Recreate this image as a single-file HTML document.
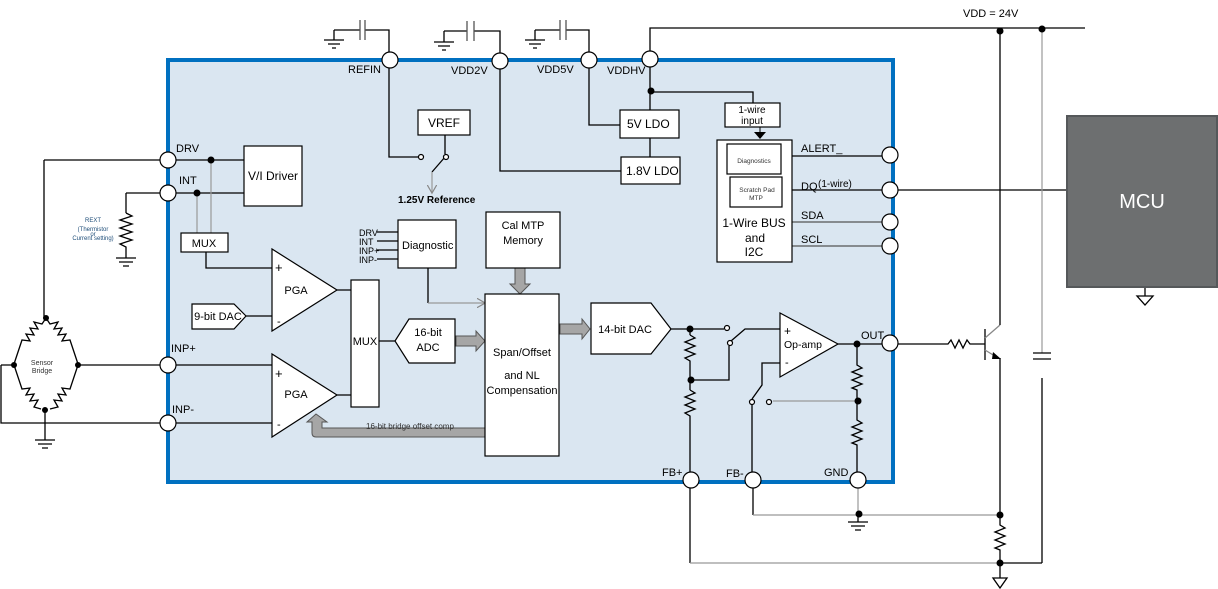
<!DOCTYPE html>
<html><head><meta charset="utf-8"><style>
html,body{margin:0;padding:0;background:#fff;}
svg{display:block;font-family:"Liberation Sans",sans-serif;}
</style></head><body>
<svg width="1218" height="589" viewBox="0 0 1218 589" xmlns="http://www.w3.org/2000/svg">
<defs>
<marker id="ah" markerWidth="8" markerHeight="8" refX="6" refY="4" orient="auto"><path d="M0,0 L7,4 L0,8" fill="none" stroke="#888" stroke-width="1"/></marker>
</defs>
<rect x="168" y="60" width="725" height="422" fill="#dae6f1" stroke="#0070c0" stroke-width="4"/>

<g stroke="#000" stroke-width="1.3" fill="none">
<path d="M334,30 H360 M365,30 H389 V60"/><path d="M360,20 V40 M365,20 V40" stroke="#555"/>
<path d="M334,30 V40 M324,40 H344 M328,44 H340 M332,48 H336"/>
<path d="M444,31 H467 M474,31 H500 V60"/><path d="M467,21 V41 M474,21 V41" stroke="#555"/>
<path d="M444,31 V42 M434,42 H454 M438,46 H450 M442,50 H446"/>
<path d="M535,30 H560 M566,30 H589 V60"/><path d="M560,20 V40 M566,20 V40" stroke="#555"/>
<path d="M535,30 V40 M525,40 H545 M529,44 H541 M533,48 H537"/>
<path d="M650,59 V28 H1085"/>
<path d="M1000,30 V310"/>
<path d="M650,60 V110 M650,92 H753 V103 M650,138 V157"/>
<path d="M589,60 V125 H620 M500,60 V171 H621"/>
<path d="M389,60 V157 H418 M445,135 V154"/>
<path d="M445,157 L432,172"/>
<path d="M792,156 H882 M792,190 H882 M898,190 H1067"/>
<path d="M792,222 H882 M792,246 H882" stroke="#555"/>
<path d="M160,160 H244 M160,193 H244 M44,160 H160 M44,160 V318 M126,193 H160 M126,193 V213"/>
<path d="M126,213 l6,3 -12,4 12,4 -12,4 12,4 -12,4 12,4 -12,4 6,3 V258 M116,258 H136 M119,262 H133 M123,266 H129"/>
<path d="M206,252 V268 H272 M246,316 H272 M78,365 H160 M176,365 H272 M1,365 H14 M1,365 V423 H160 M176,423 H272"/>
<path d="M337,290 H351 M337,395 H351 M379,341 H395"/>
<path d="M45,410 V440 M35,440 H55 M38,444 H52 M42,448 H48"/>
<path d="M428,268 V303"/>
<path d="M46,318 l-4,6 -8,-2 4,7 -8,-1 4,7 -8,-1 4,7 -8,-1 -8,24"/>
<path d="M46,318 l4,6 8,-2 -4,7 8,-1 -4,7 8,-1 -4,7 8,-1 8,24"/>
<path d="M14,365 l8,24 8,-1 -4,7 8,-1 -4,7 8,-1 -4,7 7,2"/>
<path d="M78,365 l-8,24 -8,-1 4,7 -8,-1 4,7 -8,-1 4,7 -8,2"/>
<path d="M377,232 H398 M377,241 H398 M377,250 H398 M377,259 H398"/>
<path d="M671,329 H724 M690,329 V335 M690,335 l5,3 -10,4 10,4 -10,4 10,4 -10,4 5,3 V390 M690,380 H729 V346"/>
<path d="M690,390 l5,3 -10,4 10,4 -10,4 10,4 -10,4 5,3 V472"/>
<path d="M731,341 L745,329 H780"/>
<path d="M838,344 H882 M857,344 V365 l5,3 -10,4 10,4 -10,4 10,4 -10,4 5,2 V420 l5,3 -10,4 10,4 -10,4 10,4 -10,4 5,2 V472"/>
<path d="M752,399 L762,385 V363 H780"/>
<path d="M752,405 V472 M753,488 V515 M690,488 V563 M1000,563 H1042"/>
<path d="M858,513 V522 M848,522 H868 M851,526 H865 M855,530 H861"/>
<path d="M1000,358 V525 l5,3 -10,4 10,4 -10,4 10,4 -10,4 5,2 V578 M993,578 H1007 L1000,588 Z"/>
<path d="M898,344 H948 l3,-4 4,8 4,-8 4,8 4,-8 3,4 H985 M985,329 V360"/>
<path d="M985,338 L1000,325" stroke="#888"/><path d="M1000,325 V310"/>
<path d="M985,350 L998,358" stroke="#888"/>
<path d="M1042,378 V563"/>
<path d="M1145,287 V296 M1137,296 H1153 L1145,305 Z"/>
</g>
<polygon points="993,352 1001,359 992,359" fill="#000"/>
<g stroke="#999" stroke-width="1.2" fill="none">
<path d="M211,160 V233 M197,193 V233"/>
<path d="M858,401 H773"/>
<path d="M753,515 H1000 M690,563 H1000 M858,488 V513"/>
<path d="M1042,28 V353"/>
<path d="M428,303 H484" marker-end="url(#ah)"/>
<path d="M432,172 V192" marker-end="url(#ah)"/>
</g>
<path d="M1033,353 H1051 M1033,359 H1051" stroke="#000" stroke-width="1.3"/>

<g fill="#a6a6a6" stroke="#555" stroke-width="1">
<path d="M456,336 H476 V331 L485,341 L476,351 V346 H456 Z"/>
<path d="M560,324 H582 V319 L590,329 L582,339 V334 H560 Z"/>
<path d="M515,268 H525 V284 H530 L520,294 L510,284 H515 Z"/>
<path d="M485,428 H322 V422 L327,422 L316,414 L307,422 L312,422 V433 Q312,437 316,437 H485 Z"/>
</g>

<g fill="#fff" stroke="#000" stroke-width="1.2">
<rect x="418" y="110" width="52" height="25"/>
<rect x="620" y="110" width="59" height="28"/>
<rect x="621" y="157" width="59" height="27"/>
<rect x="725" y="103" width="55" height="24"/>
<rect x="717" y="140" width="75" height="122"/>
<rect x="727" y="144" width="54" height="30"/>
<rect x="730" y="177" width="52" height="30"/>
<rect x="244" y="146" width="58" height="60"/>
<rect x="181" y="233" width="47" height="19"/>
<rect x="398" y="220" width="58" height="48"/>
<rect x="486" y="212" width="74" height="56"/>
<rect x="485" y="294" width="74" height="162"/>
<rect x="351" y="280" width="28" height="127"/>
<polygon points="272,249 272,331 337,290"/>
<polygon points="272,354 272,437 337,395"/>
<polygon points="192,304 234,304 246,316 234,329 192,329"/>
<polygon points="395,341 409,319 455,319 455,363 409,363"/>
<polygon points="591,303 651,303 671,329 651,354 591,354"/>
<polygon points="780,313 780,377 838,344"/>
</g>
<rect x="1067" y="116" width="150" height="171" fill="#6d6f70" stroke="#55585a" stroke-width="2"/>
<path d="M760,127 V133" stroke="#000"/><polygon points="754,132 766,132 760,139" fill="#000"/>

<g fill="#fff" stroke="#000" stroke-width="1.2">
<circle cx="390" cy="60" r="8"/><circle cx="500" cy="61" r="8"/><circle cx="589" cy="60" r="8"/><circle cx="650" cy="59" r="8"/>
<circle cx="168" cy="160" r="8"/><circle cx="168" cy="193" r="8"/><circle cx="168" cy="365" r="8"/><circle cx="168" cy="423" r="8"/>
<circle cx="890" cy="155" r="8"/><circle cx="890" cy="190" r="8"/><circle cx="890" cy="222" r="8"/><circle cx="890" cy="246" r="8"/><circle cx="890" cy="343" r="8"/>
<circle cx="691" cy="480" r="8"/><circle cx="753" cy="480" r="8"/><circle cx="858" cy="480" r="8"/>
<circle cx="421" cy="157" r="2.5"/><circle cx="446" cy="157" r="2.5"/>
<circle cx="727" cy="328" r="2.5"/><circle cx="730" cy="343" r="2.5"/>
<circle cx="752" cy="402" r="2.5"/><circle cx="769" cy="402" r="2.5"/>
</g>
<g fill="#000">
<circle cx="651" cy="91" r="3.5"/><circle cx="211" cy="160" r="3.5"/><circle cx="197" cy="193" r="3.5"/>
<circle cx="46" cy="318" r="3"/><circle cx="14" cy="365" r="3"/><circle cx="78" cy="365" r="3"/><circle cx="45" cy="410" r="3"/>
<circle cx="690" cy="329" r="3.5"/><circle cx="691" cy="380" r="3.5"/><circle cx="857" cy="344" r="3.5"/><circle cx="858" cy="401" r="3.5"/>
<circle cx="859" cy="514" r="3.5"/><circle cx="1000" cy="515" r="3.5"/><circle cx="1000" cy="563" r="3.5"/>
<circle cx="1000" cy="31" r="3.5"/><circle cx="1042" cy="29" r="3.5"/>
</g>

<g font-size="11" fill="#000">
<text x="348" y="73">REFIN</text><text x="451" y="74">VDD2V</text><text x="537" y="73">VDD5V</text><text x="607" y="74">VDDHV</text>
<text x="444" y="127" font-size="12" text-anchor="middle">VREF</text>
<text x="627" y="128" font-size="12">5V LDO</text><text x="626" y="175" font-size="12">1.8V LDO</text>
<text x="752" y="113" font-size="10" text-anchor="middle">1-wire</text><text x="752" y="124" font-size="10" text-anchor="middle">input</text>
<text x="754" y="163" font-size="6.5" text-anchor="middle" fill="#333">Diagnostics</text>
<text x="757" y="192" font-size="6.5" text-anchor="middle" fill="#333">Scratch Pad</text><text x="756" y="200" font-size="6.5" text-anchor="middle" fill="#333">MTP</text>
<text x="754" y="227" font-size="12" text-anchor="middle">1-Wire BUS</text><text x="755" y="242" font-size="12" text-anchor="middle">and</text><text x="754" y="256" font-size="12" text-anchor="middle">I2C</text>
<text x="801" y="152">ALERT_</text><text x="801" y="190">DQ</text><text x="818" y="187" font-size="10">(1-wire)</text>
<text x="801" y="219">SDA</text><text x="801" y="243">SCL</text>
<text x="963" y="17" font-size="11">VDD = 24V</text>
<text x="1142" y="208" font-size="20" fill="#fff" text-anchor="middle">MCU</text>
<text x="398" y="203" font-size="10" font-weight="bold">1.25V Reference</text>
<text x="176" y="152">DRV</text><text x="179" y="184">INT</text><text x="171" y="352">INP+</text><text x="172" y="413">INP-</text>
<text x="273" y="180" font-size="12" text-anchor="middle">V/I Driver</text>
<text x="204" y="247" font-size="11" text-anchor="middle">MUX</text>
<text x="296" y="294" font-size="11" text-anchor="middle">PGA</text><text x="296" y="398" font-size="11" text-anchor="middle">PGA</text>
<text x="275" y="272" font-size="13">+</text><text x="277" y="325" font-size="11">-</text>
<text x="275" y="378" font-size="13">+</text><text x="277" y="428" font-size="11">-</text>
<text x="218" y="320" font-size="11" text-anchor="middle">9-bit DAC</text>
<text x="365" y="345" font-size="11" text-anchor="middle">MUX</text>
<text x="428" y="336" font-size="11" text-anchor="middle">16-bit</text><text x="428" y="351" font-size="11" text-anchor="middle">ADC</text>
<text x="402" y="249" font-size="11">Diagnostic</text>
<text x="359" y="236" font-size="9">DRV</text><text x="359" y="245" font-size="9">INT</text><text x="359" y="254" font-size="9">INP+</text><text x="359" y="263" font-size="9">INP-</text>
<text x="523" y="229" font-size="11" text-anchor="middle">Cal MTP</text><text x="523" y="244" font-size="11" text-anchor="middle">Memory</text>
<text x="522" y="356" font-size="11" text-anchor="middle">Span/Offset</text><text x="522" y="379" font-size="11" text-anchor="middle">and NL</text><text x="522" y="394" font-size="11" text-anchor="middle">Compensation</text>
<text x="625" y="333" font-size="11" text-anchor="middle">14-bit DAC</text>
<text x="366" y="429" font-size="8" fill="#333">16-bit bridge offset comp</text>
<text x="784" y="348" font-size="10.5">Op-amp</text><text x="784" y="335" font-size="12">+</text><text x="785" y="366" font-size="11">-</text>
<text x="861" y="339">OUT</text>
<text x="662" y="476">FB+</text><text x="726" y="477">FB-</text><text x="824" y="476">GND</text>
<text x="42" y="365" font-size="7" fill="#333" text-anchor="middle">Sensor</text><text x="42" y="373" font-size="7" fill="#333" text-anchor="middle">Bridge</text>
<text x="93" y="222" font-size="6" fill="#1f4e79" text-anchor="middle">REXT</text>
<text x="93" y="231" font-size="6" fill="#1f4e79" text-anchor="middle">(Thermistor</text>
<text x="93" y="236" font-size="6" fill="#1f4e79" text-anchor="middle">or</text>
<text x="93" y="240" font-size="6" fill="#1f4e79" text-anchor="middle">Current setting)</text>
</g>
</svg>
</body></html>
